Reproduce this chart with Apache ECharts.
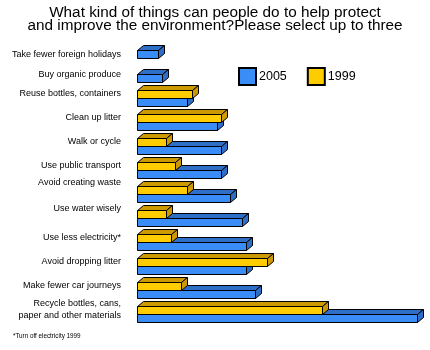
<!DOCTYPE html>
<html>
<head>
<meta charset="utf-8">
<script src="https://cdn.jsdelivr.net/npm/echarts@6/dist/echarts.min.js"></script>
<style>html,body{margin:0;padding:0;background:#fff}#c{width:430px;height:350px}</style>
</head>
<body>
<div id="c"></div>
<script>
var categories = [
  'Take fewer foreign holidays',
  'Buy organic produce',
  'Reuse bottles, containers',
  'Clean up litter',
  'Walk or cycle',
  'Use public transport',
  'Avoid creating waste',
  'Use water wisely',
  'Use less electricity*',
  'Avoid dropping litter',
  'Make fewer car journeys',
  'Recycle bottles, cans,\npaper and other materials'
];
var values2005 = [5, 6, 12, 19, 20, 20, 22, 25, 26, 26, 28, 66.5];
var values1999 = [null, null, 13, 20, 7, 9, 12, 7, 8, 31, 10.5, 44];
var seriesNames = ['2005', '1999'];

var labelStyleKey = ['dn10', 'dn6', 'n', 'n', 'n', 'n', 'up6', 'up4', 'n', 'n', 'n', 'n'];

var BLUE = '#3a8cf7', BLUE_D = '#2f6ec6';
var YEL = '#ffcc00', YEL_D = '#cc9900';
var FONT = "'Liberation Sans',Arial,sans-serif";

function pairs(arr) {
  var out = [];
  arr.forEach(function (v, i) { if (v !== null) out.push([v, i]); });
  return out;
}

function bar3d(front, dark, slot) {
  return function (params, api) {
    var v = api.value(0), idx = api.value(1);
    var p0 = api.coord([0, idx]);
    var p1 = api.coord([v, idx]);
    var band = api.size([0, 1])[1];
    var h = Math.round(band * 0.35);
    var dx = Math.round(band * 0.25), dy = Math.round(band * 0.19);
    var x0 = Math.round(p0[0]) + 0.5, x1 = Math.round(p1[0]) + 0.5;
    var yT = Math.round(p0[1] - band * 0.083) + slot * h + 0.5;
    var st = { stroke: '#000', lineWidth: 1 };
    return {
      type: 'group',
      children: [
        { type: 'polygon', shape: { points: [[x0, yT], [x0 + dx, yT - dy], [x1 + dx, yT - dy], [x1, yT]] },
          style: Object.assign({ fill: dark }, st) },
        { type: 'polygon', shape: { points: [[x1, yT], [x1 + dx, yT - dy], [x1 + dx, yT + h - dy], [x1, yT + h]] },
          style: Object.assign({ fill: dark }, st) },
        { type: 'rect', shape: { x: x0, y: yT, width: x1 - x0, height: h },
          style: Object.assign({ fill: front }, st) }
      ]
    };
  };
}

var chart = echarts.init(document.getElementById('c'), null, { renderer: 'canvas' });
var lblBase = { fontFamily: FONT, fontSize: 9, color: '#000', lineHeight: 12 };
chart.setOption({
  animation: false,
  title: [
    { text: 'What kind of things can people do to help protect\nand improve the environment?Please select up to three',
      left: 'center', top: 6, padding: 0,
      textStyle: { fontFamily: FONT, fontSize: 15.3, fontWeight: 'normal', color: '#000', lineHeight: 13 } },
    { text: '*Turn off electricity 1999', left: 13, top: 333, padding: 0,
      textStyle: { fontFamily: FONT, fontSize: 6.3, fontWeight: 'normal', color: '#000' } }
  ],
  legend: {
    left: 238, top: 67, padding: 0, itemWidth: 17, itemHeight: 17, itemGap: 20, icon: 'rect',
    data: seriesNames,
    textStyle: { fontFamily: FONT, fontSize: 12.5, color: '#000', padding: [0, 0, 0, -2] }
  },
  grid: { left: 137, right: 7, top: 32, height: 288, containLabel: false, outerBoundsMode: 'none' },
  xAxis: { type: 'value', min: 0, max: 68, show: false },
  yAxis: {
    type: 'category', inverse: true, data: categories,
    axisLine: { show: false }, axisTick: { show: false }, splitLine: { show: false },
    axisLabel: Object.assign({}, lblBase, {
      margin: 16, interval: 0,
      formatter: function (v, i) {
        var k = labelStyleKey[i];
        return v.split('\n').map(function (s) { return '{' + k + '|' + s + '}'; }).join('\n');
      },
      rich: {
        n: Object.assign({ padding: [3, 0, 0, 0] }, lblBase),
        dn10: Object.assign({ padding: [22, 0, 0, 0] }, lblBase),
        dn6: Object.assign({ padding: [14, 0, 0, 0] }, lblBase),
        up6: Object.assign({ padding: [0, 0, 10, 0] }, lblBase),
        up4: Object.assign({ padding: [0, 0, 6, 0] }, lblBase)
      }
    })
  },
  series: [
    { name: seriesNames[0], type: 'custom', renderItem: bar3d(BLUE, BLUE_D, 1),
      itemStyle: { color: BLUE, borderColor: '#000', borderWidth: 1 },
      encode: { x: 0, y: 1 }, data: pairs(values2005), clip: false },
    { name: seriesNames[1], type: 'custom', renderItem: bar3d(YEL, YEL_D, 0),
      itemStyle: { color: YEL, borderColor: '#000', borderWidth: 1 },
      encode: { x: 0, y: 1 }, data: pairs(values1999), clip: false }
  ]
});
</script>
</body>
</html>
